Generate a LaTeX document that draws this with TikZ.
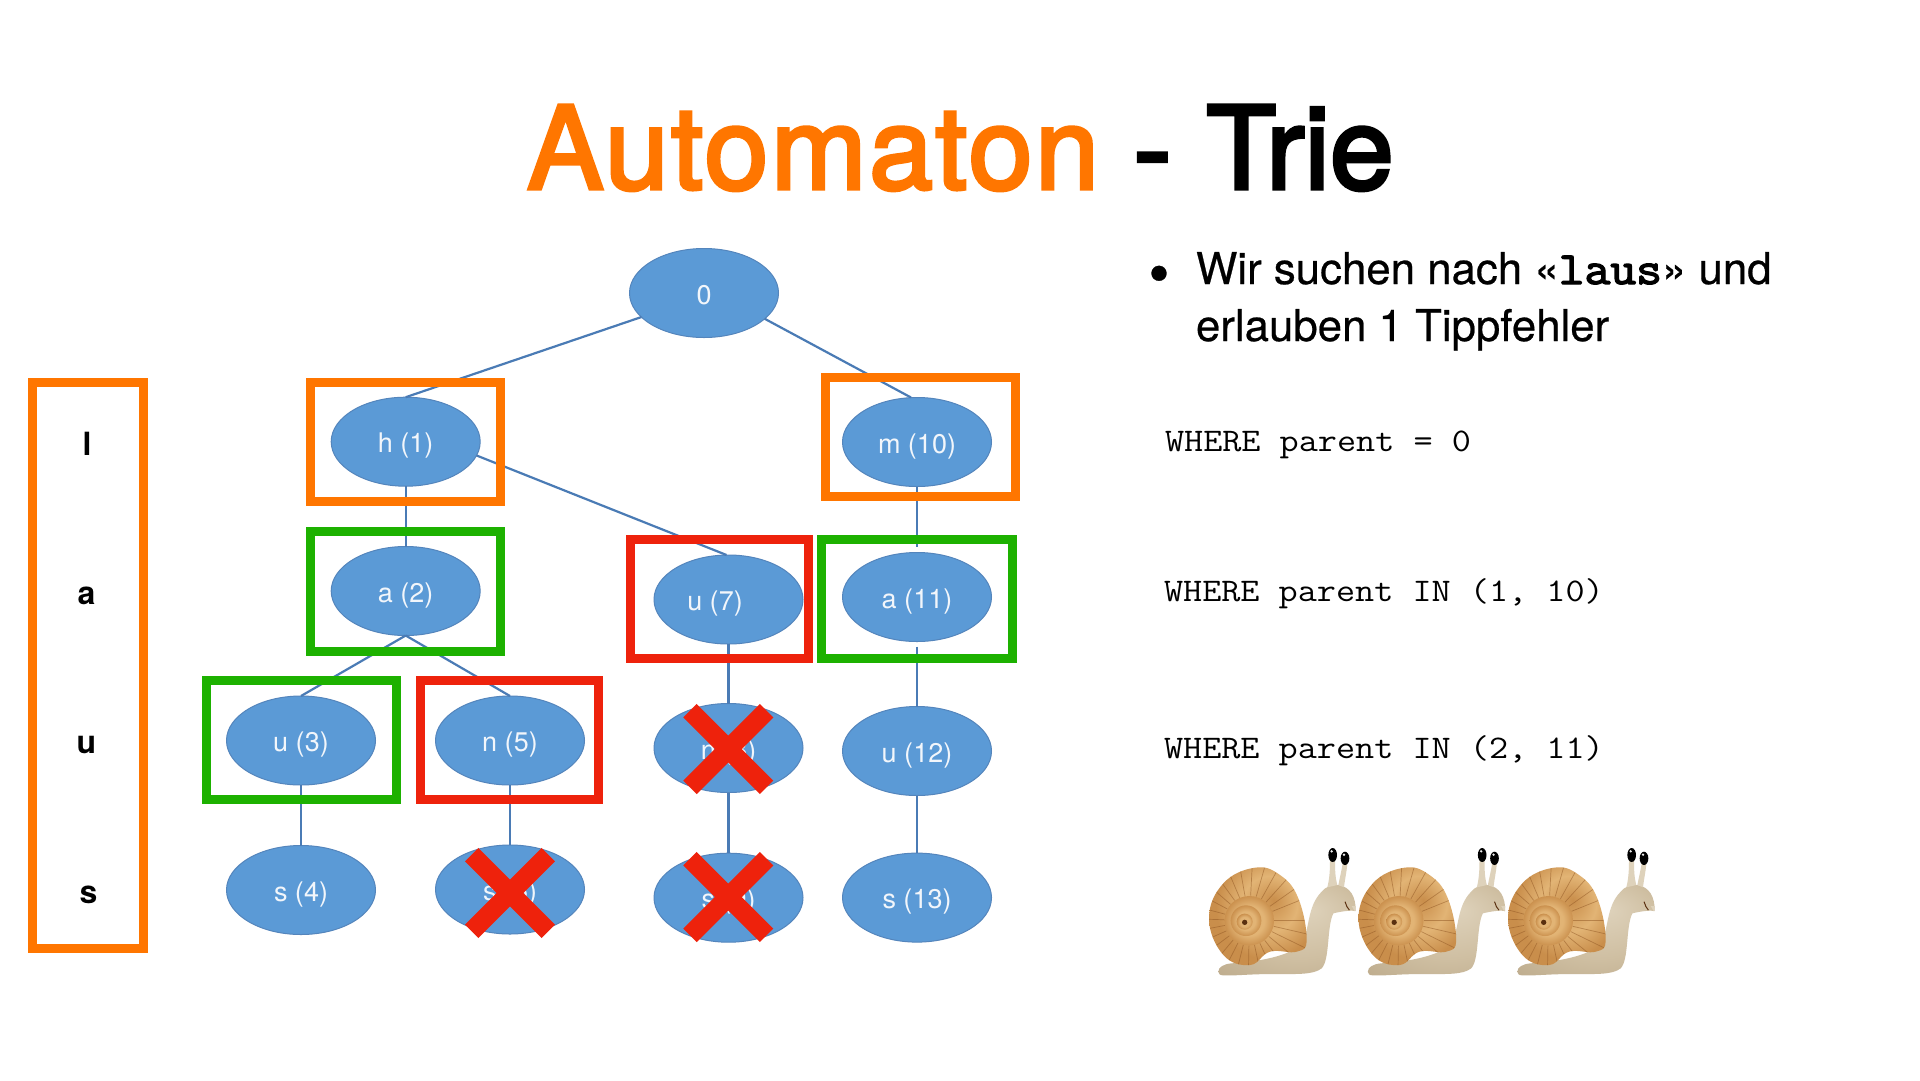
\documentclass[tikz,border=0pt]{standalone}
\usepackage{fontspec}
\setmainfont{TeX Gyre Heros}
\newfontfamily\titlefont[LetterSpace=2.1,FakeBold=3]{TeX Gyre Heros}
\newfontfamily\titletrie[LetterSpace=0,FakeBold=3]{TeX Gyre Heros}
\newfontfamily\bodyfont[FakeBold=0.5]{TeX Gyre Heros}
\newfontfamily\sqlfont[FakeStretch=1.125]{Latin Modern Mono}
\newfontfamily\sqlbold[FakeStretch=1.09,FakeBold=3]{Latin Modern Mono}
\usetikzlibrary{shapes.geometric}
\definecolor{kOrange}{HTML}{FF7600}
\definecolor{kGreen}{HTML}{1DB100}
\definecolor{kRed}{HTML}{EE220C}
\definecolor{kFill}{HTML}{5B9AD6}
\definecolor{kEdge}{HTML}{5485BC}
\definecolor{kLine}{HTML}{4A7BB5}
\definecolor{kText}{HTML}{F2F6FB}
\definecolor{sA}{HTML}{E2B475}
\definecolor{sB}{HTML}{C98E4B}
\definecolor{sC}{HTML}{8F5522}
\definecolor{sD}{HTML}{5A3010}
\definecolor{bA}{HTML}{DED2BB}
\definecolor{bB}{HTML}{CFBFA2}
\definecolor{bC}{HTML}{B3A080}
\pgfdeclareradialshading{whorl}{\pgfpoint{0bp}{0bp}}{color(0bp)=(sA);color(15bp)=(sA);color(26bp)=(sB);color(36bp)=(sC);color(46bp)=(sD);color(50bp)=(sD)}
\pgfdeclareradialshading{shellshade}{\pgfpoint{8bp}{8bp}}{color(0bp)=(sB);color(14bp)=(sA);color(26bp)=(sB);color(38bp)=(sB);color(48bp)=(sC);color(58bp)=(sD)}
\pgfdeclareradialshading{bodyshade}{\pgfpoint{8bp}{12bp}}{color(0bp)=(bA);color(22bp)=(bB);color(50bp)=(bC)}
\tikzset{
  every node/.style={inner sep=0pt, outer sep=0pt},
  treenode/.style={ellipse, fill=kFill, draw=kEdge, line width=1pt, minimum width=149pt, minimum height=89pt,
    text=kText, font=\fontsize{27}{27}\selectfont, text height=26.5pt, text depth=4.5pt},
  conn/.style={draw=kLine, line width=2.2pt},
  frame/.style={draw=#1, line width=9pt, rectangle, fill=none},
  crossmark/.style={draw=kRed, line width=19pt},
  sidelabel/.style={font=\fontsize{32}{32}\bfseries\selectfont, text=black, anchor=base},
  sql/.style={font=\fontsize{33}{33}\sqlfont, anchor=base west, text=black},
  pics/snailpic/.style={code={
    % body
    \path[shading=bodyshade] (85,425) .. controls (85,412) and (100,402) .. (125,400)
      .. controls (200,395) and (300,380) .. (335,340)
      .. controls (360,300) and (350,230) .. (395,185)
      .. controls (405,172) and (420,165) .. (445,165)
      .. controls (480,170) and (498,200) .. (497,243)
      .. controls (480,240) and (450,245) .. (430,250)
      .. controls (410,290) and (420,390) .. (395,415)
      .. controls (370,435) and (320,432) .. (250,432)
      .. controls (180,432) and (130,438) .. (100,436)
      .. controls (90,436) and (85,432) .. (85,425) -- cycle;
    % eye stalks
    \fill[bA] (412,172) .. controls (420,140) and (420,110) .. (420,85) -- (435,85)
      .. controls (435,115) and (435,140) .. (442,165) -- cycle;
    \fill[bA] (445,165) .. controls (450,140) and (455,120) .. (458,100) -- (472,102)
      .. controls (470,125) and (465,145) .. (462,172) -- cycle;
    \fill[black] (428,75) ellipse[x radius=13, y radius=21];
    \fill[black] (465,85) ellipse[x radius=13, y radius=20];
    \fill[white!85!gray] (425,64) circle[radius=4];
    \fill[white!85!gray] (462,74) circle[radius=4];
    % mouth
    \draw[line width=1pt, sD] (465,215) .. controls (470,225) and (470,235) .. (478,240);
    \fill[bA] (485,228) -- (497,228) -- (495,245) -- cycle;
    % shell
    \path[shading=shellshade] plot[smooth cycle, tension=.7] coordinates {(195,113) (270,135) (325,205) (350,330) (320,365) (240,365) (180,405) (100,375) (57,265) (100,160)};
    \begin{scope}
      \clip plot[smooth cycle, tension=.7] coordinates {(195,113) (270,135) (325,205) (350,330) (320,365) (240,365) (180,405) (100,375) (57,265) (100,160)};
      \foreach \a in {0,13,...,346} {
        \draw[line width=.7pt, sC, opacity=.5] ({178+75*cos(\a)},{272+75*sin(\a)}) -- ({178+190*cos(\a)},{272+190*sin(\a)});
      }
    \end{scope}
    \path[shading=whorl] (178,272) circle[radius=74];
    \path[shading=whorl] (168,272) circle[radius=46];
    \path[shading=whorl] (164,275) circle[radius=24];
    \fill[sD] (164,277) circle[radius=8];
  }}
}
\begin{document}
\begin{tikzpicture}[x=1pt, y=-1pt]
\useasboundingbox[fill=white] (0,0) rectangle (1920,1080);

% title
\node[anchor=base west, font=\fontsize{115}{115}\titlefont, text=black] (title) at (527,189) {\textcolor{kOrange}{Automaton} - {\titletrie Trie}};

% tree nodes
\node[treenode] (n0)  at (704,293)    {0};
\node[treenode] (h1)  at (405.7,441.7){h (1)};
\node[treenode] (m10) at (917,442)    {m (10)};
\node[treenode] (a2)  at (405.7,591)  {a (2)};
\node[treenode] (u7)  at (728.5,599.5){\mbox{u (7)\hspace{27pt}}};
\node[treenode] (a11) at (917,597)    {a (11)};
\node[treenode] (u3)  at (301,740.5)  {u (3)};
\node[treenode] (n5)  at (510,740.5)  {n (5)};
\node[treenode] (n8)  at (728.5,748)  {n (8)};
\node[treenode] (u12) at (917,751)    {u (12)};
\node[treenode] (s4)  at (301,890)    {s (4)};
\node[treenode] (s6)  at (510,889.5)  {s (6)};
\node[treenode] (s9)  at (728.5,897.7){s (9)};
\node[treenode] (s13) at (917,897.6)  {s (13)};

% connectors
\draw[conn] (n0.201) -- (h1.north);
\draw[conn] (n0.337) -- ([xshift=-6pt]m10.north);
\draw[conn] (h1.south) -- (a2.north);
\draw[conn] (h1.349) -- ([xshift=-2pt]u7.north);
\draw[conn] (a2.south) -- (u3.north);
\draw[conn] (a2.south) -- (n5.north);
\draw[conn] (u3.south) -- (s4.north);
\draw[conn] (n5.south) -- (s6.north);
\draw[conn] (u7.south) -- (n8.north);
\draw[conn] (n8.south) -- (s9.north);
\draw[conn, shorten >=6pt] (m10.south) -- (a11.north);
\draw[conn, shorten <=5pt] (a11.south) -- (u12.north);
\draw[conn] (u12.south) -- (s13.north);

% frames
\node[frame=kOrange, minimum width=111.3pt, minimum height=566pt] (rleft) at (87.8,665.8) {};
\node[frame=kOrange, minimum width=190pt, minimum height=119pt] (rh1) at (405.5,442) {};
\node[frame=kOrange, minimum width=189.7pt, minimum height=119pt] (rm10) at (920.7,436.7) {};
\node[frame=kGreen, minimum width=190pt, minimum height=120pt] (ra2) at (405.5,591.5) {};
\node[frame=kRed, minimum width=178pt, minimum height=119.3pt] (ru7) at (719.2,599.2) {};
\node[frame=kGreen, minimum width=190.4pt, minimum height=119.3pt] (ra11) at (917,599.2) {};
\node[frame=kGreen, minimum width=190pt, minimum height=119pt] (ru3) at (301.2,740) {};
\node[frame=kRed, minimum width=178pt, minimum height=119pt] (rn5) at (509.8,740) {};

% crosses
\draw[crossmark, shift={(510,893)}] (-38.3,-38.3) -- (38.3,38.3) (-38.3,38.3) -- (38.3,-38.3);
\draw[crossmark, shift={(728.3,749)}] (-38.3,-38.3) -- (38.3,38.3) (-38.3,38.3) -- (38.3,-38.3);
\draw[crossmark, shift={(728.3,897)}] (-38.3,-38.3) -- (38.3,38.3) (-38.3,38.3) -- (38.3,-38.3);

% side letters
\node[sidelabel] (ll) at (87,455) {l};
\node[sidelabel] (la) at (86.5,604) {a};
\node[sidelabel] (lu) at (86.5,753) {u};
\node[sidelabel] (ls) at (88.5,903) {s};

% bullet text
\node[font=\fontsize{60}{60}\bodyfont, anchor=base] (bullet) at (1159,294) {•};
\node[anchor=base west, font=\fontsize{43.8}{57}\bodyfont, align=left, text=black] (btext) at (1196,341)
  {Wir suchen nach «{\sqlbold\fontsize{46}{57}\selectfont laus}» und\\erlauben 1 Tippfehler};

% sql
\node[sql] (q1) at (1165,451.7) {WHERE parent = 0};
\node[sql] (q2) at (1164,601.7) {WHERE parent IN (1, 10)};
\node[sql] (q3) at (1164,758) {WHERE parent IN (2, 11)};

% snails
\pic[shift={(1190,830)}, scale=1/3, transform shape] {snailpic};
\pic[shift={(1339.5,830)}, scale=1/3, transform shape] {snailpic};
\pic[shift={(1489,830)}, scale=1/3, transform shape] {snailpic};
\end{tikzpicture}
\end{document}
